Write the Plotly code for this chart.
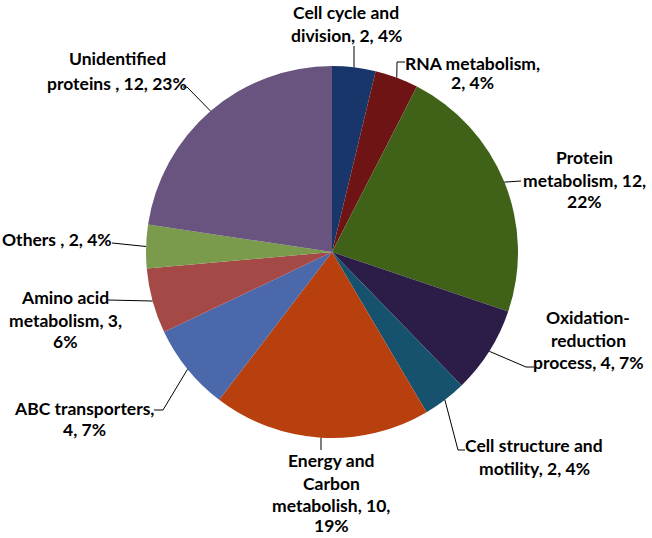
import plotly.graph_objects as go
import math

# 数据
categories = ["Cell cycle and division", "RNA metabolism", "Protein metabolism",
              "Oxidation-reduction process", "Cell structure and motility",
              "Energy and Carbon metabolish", "ABC transporters",
              "Amino acid metabolism", "Others", "Unidentified proteins"]
values = [2, 2, 12, 4, 2, 10, 4, 3, 2, 12]
percents = ["4%", "4%", "22%", "7%", "4%", "19%", "7%", "6%", "4%", "23%"]

# 标签换行文字（与原图一致）
label_lines = [
    ["Cell cycle and", "division, 2, 4%"],
    ["RNA metabolism,", "2, 4%"],
    ["Protein", "metabolism, 12,", "22%"],
    ["Oxidation-", "reduction", "process, 4, 7%"],
    ["Cell structure and", "motility, 2, 4%"],
    ["Energy and", "Carbon", "metabolish, 10,", "19%"],
    ["ABC transporters,", "4, 7%"],
    ["Amino acid", "metabolism, 3,", "6%"],
    ["Others , 2, 4%"],
    ["Unidentified", "proteins , 12, 23%"],
]

colors = ["#18366A", "#6E1414", "#406218", "#2C1C48", "#16526E",
          "#B8400E", "#4A68AA", "#A54946", "#7A9A4C", "#68547F"]

W, H = 652, 538
cx, cy, r = 332, 252, 186

# 标签位置（像素）：x 中心和每行的 y
text_pos = [
    (346, [12, 35]),
    (472, [63, 82]),
    (584, [157, 180, 201]),
    (588, [317, 340, 362]),
    (534, [445, 468]),
    (331, [460, 483, 505, 525]),
    (84, [408, 429]),
    (65, [297, 320, 341]),
    (57, [239]),
    (117, [58, 83]),
]

# 引线拐点（像素），从饼图边缘出发
leader_pts = [
    [(354, 46)],
    [(397, 62), (405, 62)],
    [(521, 181)],
    [(526, 367), (534, 367)],
    [(458, 450), (465, 450)],
    [(321, 450)],
    [(163, 410), (154, 410)],
    [(108, 300)],
    [(112, 243)],
    [(187, 87), (183, 87)],
]

total = sum(values)

fig = go.Figure()
fig.add_trace(go.Pie(
    labels=categories, values=values, sort=False, direction="clockwise",
    rotation=0, marker=dict(colors=colors, line=dict(width=0)),
    textinfo="none", hoverinfo="label+value+percent", showlegend=False,
    domain=dict(x=[(cx - r) / W, (cx + r) / W], y=[(H - cy - r) / H, (H - cy + r) / H]),
))

# 透明坐标轴用于像素定位
fig.add_trace(go.Scatter(x=[0, W], y=[0, H], mode="markers", marker=dict(opacity=0),
                         hoverinfo="skip", showlegend=False))

cum = 0
for i, v in enumerate(values):
    mid = (cum + v / 2) / total * 2 * math.pi
    cum += v
    ex = cx + r * math.sin(mid)
    ey = cy - r * math.cos(mid)
    pts = [(ex, ey)] + leader_pts[i]
    path = "M " + " L ".join(f"{px},{py}" for px, py in pts)
    fig.add_shape(type="path", path=path, xref="x", yref="y",
                  line=dict(color="black", width=1))
    tx, ys = text_pos[i]
    for line, ty in zip(label_lines[i], ys):
        fig.add_annotation(x=tx, y=ty, xref="x", yref="y", text=line, showarrow=False,
                           xanchor="center", yanchor="middle",
                           font=dict(family="Lato", size=17.5, color="black", weight="bold"))

fig.update_layout(
    width=W, height=H, margin=dict(l=0, r=0, t=0, b=0),
    paper_bgcolor="white", plot_bgcolor="rgba(0,0,0,0)",
    xaxis=dict(range=[0, W], visible=False, fixedrange=True),
    yaxis=dict(range=[H, 0], visible=False, fixedrange=True),
)

fig.write_html("out.html", config={"displayModeBar": False},
               post_script="document.body.style.margin='0px';")
